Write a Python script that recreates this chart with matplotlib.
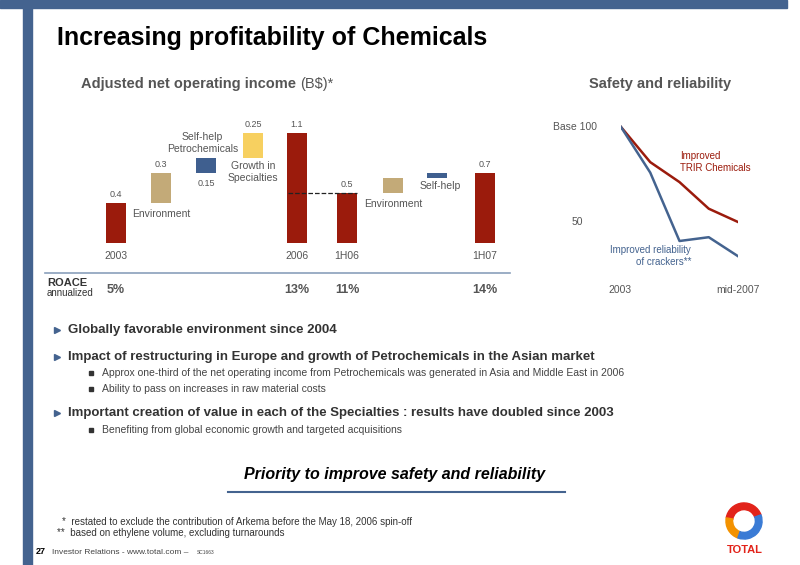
import matplotlib
matplotlib.use('Agg')
import matplotlib.pyplot as plt
from matplotlib.patches import Rectangle, Wedge

plt.rcParams['font.family'] = ['Liberation Sans', 'DejaVu Sans']

# waterfall data (B$)
steps = ['2003', 'Environment', 'Self-help\nPetrochemicals', 'Growth in\nSpecialties', '2006',
         '1H06', 'Environment', 'Self-help', '1H07']
bottoms = [0, 0.4, 0.7, 0.85, 0, 0, 0.5, 0.65, 0]
heights = [0.4, 0.3, 0.15, 0.25, 1.1, 0.5, 0.15, 0.05, 0.7]
value_labels = ['0.4', '0.3', '', '0.25', '1.1', '0.5', '', '', '0.7']
kinds = ['total', 'env', 'self', 'growth', 'total', 'total', 'env', 'self', 'total']
roace = {'2003': '5%', '2006': '13%', '1H06': '11%', '1H07': '14%'}

# safety and reliability index (base 100 in 2003)
periods = [0, 1, 2, 3, 4]
trir = [100, 81.5, 71, 57, 50]
crackers = [100, 76, 40, 42, 32]

colors = {'total': '#9b1b0c', 'env': '#c3aa78', 'self': '#3f5f8f', 'growth': '#f7d060'}
gray = '#555555'
blue = '#44638f'

fig = plt.figure(figsize=(8, 5.65), dpi=100)
W, H = 800, 565

def fx(x): return x / W
def fy(y): return 1 - y / H

bg = fig.add_axes([0, 0, 1, 1])
bg.set_xlim(0, W); bg.set_ylim(H, 0); bg.axis('off')
bg.add_patch(Rectangle((0, 0), 787, 8, color=blue))
bg.add_patch(Rectangle((23, 0), 9, H, color=blue))
bg.text(57, 38, 'Increasing profitability of Chemicals', fontsize=18, fontweight='bold', va='center')

bg.text(300, 84, 'Adjusted net operating income ', fontsize=10.5, fontweight='bold', color=gray,
        va='center', ha='right')
bg.text(300, 84, '(B$)*', fontsize=10.5, color=gray, va='center', ha='left')
bg.text(660, 84, 'Safety and reliability', fontsize=10.5, fontweight='bold', color=gray,
        va='center', ha='center')

# waterfall axes in pixel x coordinates
x0, x1, ytop, ybot = 90, 510, 110, 250
ax = fig.add_axes([fx(x0), fy(ybot), fx(x1 - x0), (ybot - ytop) / H])
ax.set_xlim(x0, x1)
ax.set_ylim(-(ybot - 243) / 100, (243 - ytop) / 100)
ax.axis('off')
xpos = [116, 161, 206, 253, 297, 347, 393, 437, 485]
ax.bar(xpos, heights, bottom=bottoms, width=20, color=[colors[k] for k in kinds])
for x, b, h, v in zip(xpos, bottoms, heights, value_labels):
    if v:
        ax.text(x, b + h + 0.04, v, ha='center', va='bottom', fontsize=6.5, color=gray)
ax.plot([288, 357], [0.5, 0.5], ls='--', color='#222222', lw=0.9)
# step labels
ax.text(161, 0.34, 'Environment', ha='center', va='top', fontsize=7.5, color=gray)
ax.text(238, 0.89, 'Self-help\nPetrochemicals', ha='right', va='bottom', fontsize=7.5, color=gray,
        multialignment='center')
ax.text(206, 0.64, '0.15', ha='center', va='top', fontsize=6.5, color=gray)
ax.text(253, 0.82, 'Growth in\nSpecialties', ha='center', va='top', fontsize=7.5, color=gray)
ax.text(393, 0.44, 'Environment', ha='center', va='top', fontsize=7.5, color=gray)
ax.text(420, 0.575, 'Self-help', ha='left', va='center', fontsize=7.5, color=gray)

for x, lab, k in zip(xpos, steps, kinds):
    if k == 'total':
        bg.text(x, 256, lab, ha='center', va='center', fontsize=7.5, color=gray)
        bg.text(x, 290, roace[lab], ha='center', va='center', fontsize=9, fontweight='bold', color=gray)
bg.plot([45, 510], [273, 273], color='#8aa0bb', lw=1.2)
bg.text(47, 283, 'ROACE', fontsize=8, fontweight='bold', color='#333333', va='center')
bg.text(47, 293, 'annualized', fontsize=7, color='#333333', va='center')

# safety chart, y pixels: 100 -> 127, 50 -> 222
lx = fig.add_axes([fx(621), fy(270), fx(738 - 621), (270 - 110) / H])
lx.set_xlim(0, 4)
lx.set_ylim(100 - (270 - 127) / 1.9, 100 + (127 - 110) / 1.9)
lx.axis('off')
lx.plot(periods, trir, color='#9b1b0c', lw=1.8)
lx.plot(periods, crackers, color=blue, lw=1.8)
bg.text(597, 127, 'Base 100', ha='right', va='center', fontsize=7.5, color=gray)
bg.text(583, 222, '50', ha='right', va='center', fontsize=7.5, color=gray)
bg.text(620, 290, '2003', ha='center', va='center', fontsize=7.5, color=gray)
bg.text(738, 290, 'mid-2007', ha='center', va='center', fontsize=7.5, color=gray)
bg.text(680, 162, 'Improved\nTRIR Chemicals', ha='left', va='center', fontsize=7, color='#9b1b0c')
bg.text(691, 256, 'Improved reliability\nof crackers**', ha='right', va='center', fontsize=7,
        color=blue, multialignment='right')

# bullets
bullets = [
    (330, 'Globally favorable environment since 2004', 1),
    (357, 'Impact of restructuring in Europe and growth of Petrochemicals in the Asian market', 1),
    (373, 'Approx one-third of the net operating income from Petrochemicals was generated in Asia and Middle East in 2006', 2),
    (389, 'Ability to pass on increases in raw material costs', 2),
    (413, 'Important creation of value in each of the Specialties : results have doubled since 2003', 1),
    (430, 'Benefiting from global economic growth and targeted acquisitions', 2),
]
for y, t, lvl in bullets:
    if lvl == 1:
        bg.plot(57, y, marker='>', color=blue, ms=5)
        bg.text(68, y, t, fontsize=9.5, fontweight='bold', color='#333333', va='center')
    else:
        bg.plot(91, y, marker='s', color='#333333', ms=2.5)
        bg.text(102, y, t, fontsize=7.5, color='#444444', va='center')

bg.text(395, 475, 'Priority to improve safety and reliability', fontsize=11.5, fontweight='bold',
        style='italic', ha='center', va='center')
bg.plot([228, 565], [492, 492], color=blue, lw=1.5)

bg.text(62, 522, '*  restated to exclude the contribution of Arkema before the May 18, 2006 spin-off',
        fontsize=7, color='#333333', va='center')
bg.text(57, 533, '**  based on ethylene volume, excluding turnarounds', fontsize=7, color='#333333', va='center')
bg.text(36, 552, '27', fontsize=6.5, fontweight='bold', va='center')
bg.text(52, 552, 'Investor Relations - www.total.com \u2013 ', fontsize=6, color='#444444', va='center')
bg.text(197, 552, 'SC1663', fontsize=3.5, color='#444444', va='center')

# logo
la = fig.add_axes([fx(725), fy(540), fx(38), 38 / H])
la.set_xlim(-1, 1); la.set_ylim(-1, 1); la.set_aspect('equal'); la.axis('off')
la.add_patch(Wedge((0, 0), 0.95, 20, 170, width=0.35, color='#e2231a'))
la.add_patch(Wedge((0, 0), 0.95, 170, 250, width=0.35, color='#f39200'))
la.add_patch(Wedge((0, 0), 0.95, 250, 380, width=0.35, color='#3a7bd5'))
bg.text(745, 550, 'TOTAL', fontsize=8, fontweight='bold', color='#e2231a', ha='center', va='center')

fig.savefig('out.png', dpi=100)
